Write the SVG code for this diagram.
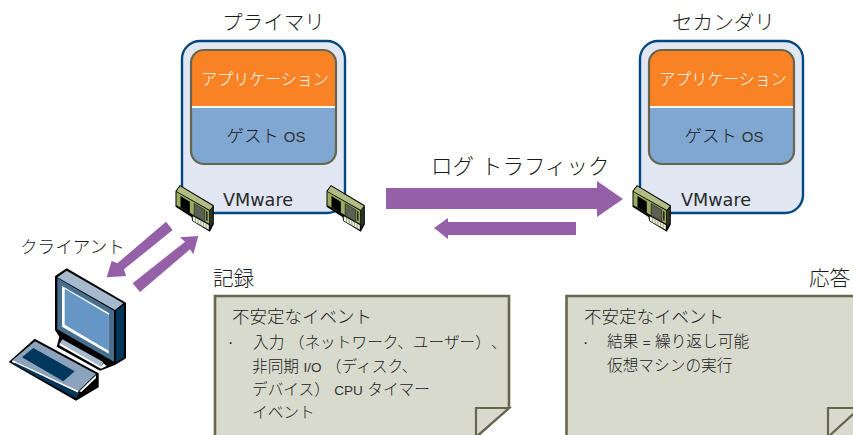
<svg xmlns="http://www.w3.org/2000/svg" width="853" height="435" viewBox="0 0 853 435">
<style>
text{font-family:"Liberation Sans","Noto Sans CJK JP",sans-serif;font-weight:300;fill:#1a1a1a;text-spacing-trim:space-all}
.t{font-size:20.6px}.app{font-size:16px;fill:#fff;text-anchor:middle}.os{font-size:17.5px;text-anchor:middle}
.lat{font-size:15px;font-weight:400;fill:#333}
.vm{font-family:"DejaVu Sans",sans-serif;font-weight:400;font-size:17.6px;fill:#2a2a2a}
.n1{font-size:17.5px}.n2{font-size:15.7px}.sm{font-size:13.5px;font-weight:400;fill:#333}
.host{fill:#e0e6f2;stroke:#00487f;stroke-width:2.4}
.arrow{fill:#9560a8}
.note{fill:#d8dace;stroke:#66664f;stroke-width:2.6}
.fold{fill:#d8dace;stroke:#66664f;stroke-width:2.2}
</style>
<defs>
<clipPath id="inner"><rect x="191" y="50" width="145" height="114" rx="13"/></clipPath>
<g id="vm">
<rect class="host" x="182" y="41" width="163" height="172" rx="18"/>
<g clip-path="url(#inner)">
<rect x="191" y="50" width="145" height="56" fill="#f98225"/>
<rect x="191" y="106" width="145" height="2" fill="#fff"/>
<rect x="191" y="108" width="145" height="56" fill="#7fa7d1"/>
</g>
<rect x="191" y="50" width="145" height="114" rx="13" fill="none" stroke="#66664f" stroke-width="2.2"/>
</g>
<g id="nic">
<path d="M0 18 L13 0 L115 61 L115 118 L103 140 L50 108 L48 96 L0 65Z" fill="#000"/>
<path d="M3 19 L14 4 L112 63 L103 75Z" fill="#b3bc85"/>
<path d="M3 21 L101 77 L101 116 L3 61Z" fill="#9bad5c"/>
<path d="M103 77 L112 66 L112 114 L103 130Z" fill="#2d3325"/>
<path d="M15 33 L43 50 L43 84 L15 67Z" fill="#000"/>
<path d="M56 56 L88 75 L88 110 L56 92Z" fill="#5c6054" stroke="#1d1d1d" stroke-width="2"/>
<path d="M92 78 L96 80 L96 108 L92 106Z" fill="#111"/>
<path d="M52 94 L100 120 L100 134 L52 107Z" fill="#eeeede"/>
<path d="M60 98V112M68 102V117M76 107V122M84 111V126M92 116V131" stroke="#7f8a55" stroke-width="2"/>
</g>
</defs>
<g id="connectors">
<path class="arrow" d="M386 188H597V181L623 199L597 217V209H386Z"/>
<path class="arrow" d="M434 228L448 218V222H576V235H448V239Z"/>
<g transform="translate(0 200) scale(.33333)">
<path class="arrow" d="M498 65L518 90L372 208L378 228L320 232L335 183L352 190Z"/>
<path class="arrow" d="M398 250L555 125L540 112L595 108L580 163L570 148L420 276Z"/>
</g>
</g>
<g id="primary">
<text class="t" x="222" y="30">プライマリ</text>
<use href="#vm"/>
<text class="app" x="265" y="85">アプリケーション</text>
<text class="os" x="266" y="142">ゲスト <tspan class="lat">OS</tspan></text>
<text class="vm" x="223" y="206">VMware</text>
<g transform="translate(175.500 185) scale(.33333)"><use href="#nic"/></g>
<g transform="translate(326.500 185) scale(.33333)"><use href="#nic"/></g>
</g>
<g id="secondary">
<text class="t" x="672" y="30">セカンダリ</text>
<use href="#vm" x="458"/>
<text class="app" x="723" y="85">アプリケーション</text>
<text class="os" x="724" y="142">ゲスト <tspan class="lat">OS</tspan></text>
<text class="vm" x="681" y="206">VMware</text>
<g transform="translate(632.500 185) scale(.33333)"><use href="#nic"/></g>
</g>
<g id="traffic-label"><text x="431" y="174" font-size="21.500" word-spacing="1">ログ トラフィック</text></g>
<g id="client">
<text x="20" y="253" font-size="17.6">クライアント</text>
<g transform="translate(0 200) scale(.33333)">
<path d="M165 228L200 205L378 308V475L345 495L300 512L170 440L178 410L165 390Z" fill="#000"/>
<path d="M172 232L200 212L370 310L345 330Z" fill="#a6b9cd"/>
<path d="M172 234L342 332V485L172 388Z" fill="#47708f"/>
<path d="M348 332L372 314V472L348 488Z" fill="#00375a"/>
<path d="M186 258L328 340V462L186 380Z" fill="#fff"/>
<path d="M194 266L326 344V452L194 374Z" fill="#6596c6"/>
<path d="M326 344L342 334V480L326 460Z" fill="#4b6d8e"/>
<path d="M178 432L187 418L310 486L303 502Z" fill="#a6b9cd"/>
<path d="M178 436L303 506L320 498L310 490L303 500L180 430Z" fill="#fff"/>
<path d="M26 486L104 416L296 520V562L228 602Z" fill="#000"/>
<path d="M38 480L105 424L288 522L236 572Z" fill="#8ca3bd"/>
<path d="M38 480L236 572L232 582L36 486Z" fill="#fff"/>
<path d="M66 472L100 444L224 514L190 544Z" fill="#00375a"/>
<path d="M34 488L228 594L238 580L48 490Z" fill="#00375a"/>
<path d="M238 574L288 526V534L244 576Z" fill="#fff"/>
</g>
</g>
<g id="note-log">
<text class="t" x="213" y="286">記録</text>
<path class="note" d="M215 296H509V408L476 437H215Z"/>
<path class="fold" d="M509 408H476V437Z"/>
<text class="n1" x="232" y="323">不安定なイベント</text>
<text class="n2" x="228" y="348">·</text>
<text class="n2" x="253" y="348">入力 （ネットワーク、ユーザー）、</text>
<text class="n2" x="252" y="372">非同期 <tspan class="sm">I/O</tspan> （ディスク、</text>
<text class="n2" x="252" y="395">デバイス） <tspan class="sm">CPU</tspan> タイマー</text>
<text class="n2" x="252" y="418">イベント</text>
</g>
<g id="note-response">
<text class="t" x="809" y="286">応答</text>
<path class="note" d="M566.500 296H870V437H566.500Z"/>
<path class="fold" d="M860 408H828V437Z"/>
<text class="n1" x="584" y="323">不安定なイベント</text>
<text class="n2" x="583" y="348">·</text>
<text class="n2" x="607" y="347">結果 <tspan class="sm">=</tspan> 繰り返し可能</text>
<text class="n2" x="607" y="371">仮想マシンの実行</text>
</g>
</svg>
